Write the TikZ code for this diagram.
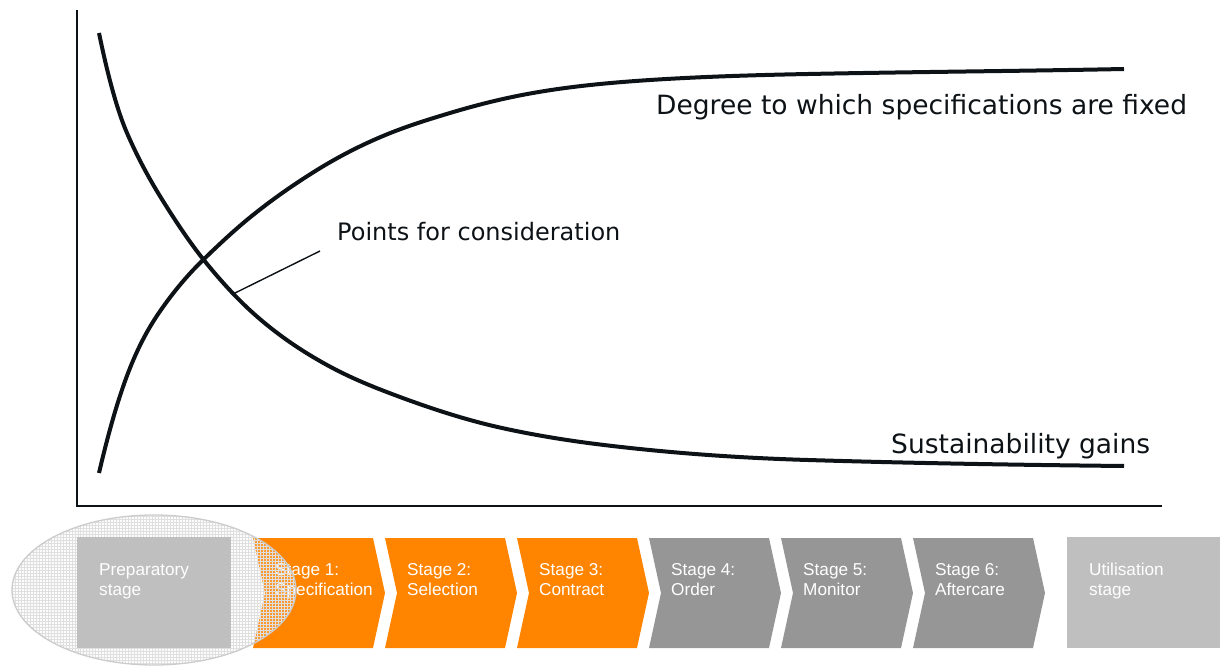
\documentclass[tikz,border=0pt]{standalone}
\usepackage{fontspec}
\usepackage{tikz}
\usetikzlibrary{shapes.geometric, patterns, positioning, calc}
\newfontfamily\chartfont{DejaVu Sans}
\newfontfamily\stagefont{Liberation Sans}
\definecolor{stageorange}{HTML}{FF8400}
\definecolor{stagegrey}{HTML}{969696}
\definecolor{phasegrey}{HTML}{BFBFBF}
\definecolor{inkblack}{HTML}{0D1216}

\begin{document}
\begin{tikzpicture}[
        x=1bp, y=-1bp,
        axis/.style={draw=inkblack, line width=2.2bp},
        curve/.style={draw=inkblack, line width=4bp},
        line/.style={draw=inkblack, line width=1.4bp},
        label/.style={font=\chartfont\fontsize{26.5bp}{30bp}\selectfont, text=inkblack, inner sep=0pt, anchor=base west},
        stagetext/.style={font=\stagefont\fontsize{17.2bp}{20bp}\selectfont, text=white, align=left, inner sep=0pt, anchor=north west},
        focus/.style={ellipse, draw=gray!40, line width=1.3bp, minimum width=284bp, minimum height=150bp, preaction={fill=gray!10, fill opacity=0.2}, pattern=grid, pattern color=gray!25}
    ]
        \useasboundingbox (0,0) rectangle (1220,666);

        % Axes
        \coordinate (origin) at (77,506);
        \draw [axis] (77,10) -- (origin) -- (1162,506);

        % Curves
        \draw [curve] (99,33) .. controls (108.3,78.2) and (117.7,111.5) .. (127,133)
            .. controls (139,160.6) and (151,181.8) .. (163,201)
            .. controls (176.3,222.3) and (189.7,242.3) .. (203,259)
            .. controls (219.7,279.8) and (236.3,298) .. (253,313)
            .. controls (277.7,335.2) and (302.3,351.4) .. (327,365)
            .. controls (351.3,378.4) and (375.7,388) .. (400,397)
            .. controls (434,409.6) and (468,420.5) .. (502,428)
            .. controls (536,435.5) and (570,440.9) .. (604,445)
            .. controls (672,453.2) and (740,458) .. (808,460)
            .. controls (913.3,463.2) and (1018.7,464.9) .. (1124,466);
        \draw [curve] (99,473) .. controls (109.3,428.8) and (119.7,393.8) .. (130,368)
            .. controls (141,340.5) and (152,322.4) .. (163,307)
            .. controls (176.3,288.3) and (189.7,272.9) .. (203,260)
            .. controls (219.7,243.8) and (236.3,228.3) .. (253,215)
            .. controls (274.3,197.9) and (295.7,183.2) .. (317,170)
            .. controls (339,156.4) and (361,145.2) .. (383,136)
            .. controls (405.3,126.6) and (427.7,119.7) .. (450,113)
            .. controls (472.3,106.3) and (494.7,100.5) .. (517,96)
            .. controls (561.3,87.1) and (605.7,82.9) .. (650,80)
            .. controls (702.7,76.6) and (755.3,75.05) .. (808,74)
            .. controls (913.3,71.9) and (1018.7,71.1) .. (1124,69);

        % Labels
        \node [label] (degree) at (656,115) {Degree to which specifications are fixed};
        \node [label] (gains) at (891,453) {Sustainability gains};
        \node [label, font=\chartfont\fontsize{24bp}{28bp}\selectfont] (consider) at (337,241) {Points for consideration};
        \coordinate (onCurve) at (233,294);
        \coordinate (leadEnd) at (320,251);
        \path [line] (onCurve) -- (leadEnd);

        % Stages
        \foreach \i/\col/\name in {1/stageorange/Specification, 2/stageorange/Selection, 3/stageorange/Contract, 4/stagegrey/Order, 5/stagegrey/Monitor, 6/stagegrey/Aftercare} {
            \pgfmathsetmacro{\L}{253+132*(\i-1)}
            \fill [\col] (\L,538) -- ++(120,0) -- ++(12,55) -- ++(-12,55) -- ++(-120,0) -- ++(12,-55) -- cycle;
            \node [stagetext] (stage\i) at (\L+22,563) {Stage \i:\\\name};
        }
        \fill [phasegrey] (1067,537) rectangle (1220,648);
        \node [stagetext] (util) at (1089,563) {Utilisation\\stage};

        % Highlight
        \node [focus] (prepfocus) at (154,590) {};
        \fill [phasegrey] (77,537) rectangle (231,648);
        \node [stagetext] (prep) at (99,563) {Preparatory\\stage};
    \end{tikzpicture}
\end{document}
